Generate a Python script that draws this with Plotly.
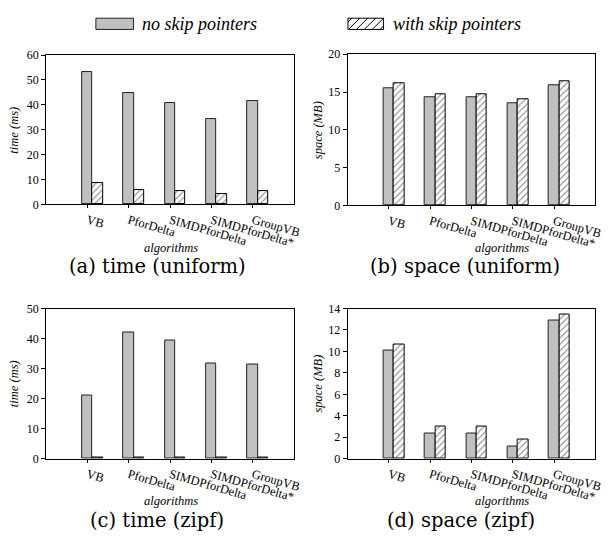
import plotly.graph_objects as go

# ---- data ----
algorithms = ["VB", "PforDelta", "SIMDPforDelta", "SIMDPforDelta*", "GroupVB"]

time_uniform_noskip = [53.2, 44.6, 40.9, 34.1, 41.4]
time_uniform_skip = [8.4, 5.7, 5.5, 4.2, 5.5]

space_uniform_noskip = [15.5, 14.3, 14.3, 13.5, 15.95]
space_uniform_skip = [16.15, 14.75, 14.75, 14.0, 16.45]

time_zipf_noskip = [21.1, 41.9, 39.3, 31.6, 31.5]
time_zipf_skip = [0.35, 0.35, 0.35, 0.35, 0.35]

space_zipf_noskip = [10.05, 2.38, 2.38, 1.1, 12.9]
space_zipf_skip = [10.6, 3.0, 3.0, 1.82, 13.45]

y_ticks = {
    "a": [0, 10, 20, 30, 40, 50, 60],
    "b": [0, 5, 10, 15, 20],
    "c": [0, 10, 20, 30, 40, 50],
    "d": [0, 2, 4, 6, 8, 10, 12, 14],
}

W, H = 608, 557
SERIF = "Liberation Serif, DejaVu Serif"
GRAY = "#c0c0c0"
BAR_W = 0.25


def px_x(px):
    return px / W


def px_y(py):
    return 1 - py / H


# panel layout in pixels: (left, right, top, bottom)
panels = [
    ("a", time_uniform_noskip, time_uniform_skip, (46.7, 297.5, 49.3, 202.5), "time (ms)"),
    ("b", space_uniform_noskip, space_uniform_skip, (351.7, 602.3, 48.5, 203.5), "space (MB)"),
    ("c", time_zipf_noskip, time_zipf_skip, (46.7, 297.5, 309.3, 463.3), "time (ms)"),
    ("d", space_zipf_noskip, space_zipf_skip, (351.7, 602.3, 309.3, 463.3), "space (MB)"),
]

fig = go.Figure()
positions = list(range(len(algorithms)))

for i, (key, noskip, skip, box, ytitle) in enumerate(panels, start=1):
    xa = "x" if i == 1 else f"x{i}"
    ya = "y" if i == 1 else f"y{i}"
    fig.add_trace(go.Bar(
        x=positions, y=noskip, width=BAR_W, offset=-BAR_W / 2,
        marker=dict(color=GRAY, line=dict(color="#202020", width=1)),
        xaxis=xa, yaxis=ya, showlegend=False, name="no skip pointers",
    ))
    fig.add_trace(go.Bar(
        x=positions, y=skip, width=BAR_W, offset=BAR_W / 2,
        marker=dict(color="white", line=dict(color="black", width=1),
                    pattern=dict(shape="/", size=4.5, solidity=0.22,
                                 fgcolor="black", bgcolor="white")),
        xaxis=xa, yaxis=ya, showlegend=False, name="with skip pointers",
    ))
    l, r, t, b = box
    yt = y_ticks[key]
    axis_common = dict(showline=True, mirror=True, linecolor="black", linewidth=1,
                       showgrid=False, zeroline=False, ticks="outside",
                       tickcolor="black", tickwidth=1)
    xname = "xaxis" if i == 1 else f"xaxis{i}"
    yname = "yaxis" if i == 1 else f"yaxis{i}"
    fig.layout[xname] = dict(
        domain=[px_x(l), px_x(r)], range=[-1, 5],
        anchor=ya, tickvals=positions, ticktext=algorithms, tickangle=16,
        ticklen=3, tickfont=dict(family=SERIF, size=12.5, color="black"),
        **axis_common,
    )
    fig.layout[yname] = dict(
        domain=[px_y(b), px_y(t)], range=[0, yt[-1]],
        anchor=xa, tickvals=yt, ticklen=4,
        tickfont=dict(family=SERIF, size=12, color="black"),
        **axis_common,
    )

annotations = []
shapes = []

# axis titles
title_font = dict(family=SERIF, size=12.5, color="black")
for (cx, cy, txt, ang) in [
    (14, 126, "time (ms)", -90), (322, 126, "space (MB)", -90),
    (14, 386, "time (ms)", -90), (322, 386, "space (MB)", -90),
    (173, 247, "algorithms", 0), (508, 247, "algorithms", 0),
    (173, 507, "algorithms", 0), (508, 507, "algorithms", 0),
]:
    annotations.append(dict(x=px_x(cx), y=px_y(cy), xref="paper", yref="paper",
                            text=f"<i>{txt}</i>", showarrow=False, textangle=ang,
                            font=title_font, xanchor="center", yanchor="middle"))

# sub-figure captions
cap_font = dict(family="DejaVu Serif", size=19.5, color="black")
for (cx, cy, txt) in [
    (159, 266.5, "(a) time (uniform)"), (470, 266.5, "(b) space (uniform)"),
    (159, 527, "(c) time (zipf)"), (466, 527, "(d) space (zipf)"),
]:
    annotations.append(dict(x=px_x(cx), y=px_y(cy), xref="paper", yref="paper",
                            text=txt, showarrow=False, font=cap_font,
                            xanchor="center", yanchor="middle"))

# legend keys
leg_font = dict(family=SERIF, size=18, color="black")
KT, KB = 11.5, 23.0
shapes.append(dict(type="rect", xref="paper", yref="paper",
                   x0=px_x(97), x1=px_x(135), y0=px_y(KB), y1=px_y(KT),
                   fillcolor=GRAY, line=dict(color="#202020", width=1)))
annotations.append(dict(x=px_x(142), y=px_y(17.5), xref="paper", yref="paper",
                        text="<i>no skip pointers</i>", showarrow=False, font=leg_font,
                        xanchor="left", yanchor="middle"))

HX0, HX1 = 352, 388
shapes.append(dict(type="rect", xref="paper", yref="paper",
                   x0=px_x(HX0), x1=px_x(HX1), y0=px_y(KB), y1=px_y(KT),
                   fillcolor="white", line=dict(color="black", width=1)))
kw, kh = HX1 - HX0, KB - KT
step = 8.0
d = -kh + step / 2
while d < kw:
    u0 = max(d, 0.0)
    u1 = min(kw, kh + d)
    if u1 > u0:
        shapes.append(dict(type="line", xref="paper", yref="paper",
                           x0=px_x(HX0 + u0), y0=px_y(KB - (u0 - d)),
                           x1=px_x(HX0 + u1), y1=px_y(KB - (u1 - d)),
                           line=dict(color="black", width=1)))
    d += step
annotations.append(dict(x=px_x(396), y=px_y(17.5), xref="paper", yref="paper",
                        text="<i>with skip pointers</i>", showarrow=False, font=leg_font,
                        xanchor="left", yanchor="middle"))

fig.update_layout(
    width=W, height=H, autosize=False,
    margin=dict(l=0, r=0, t=0, b=0),
    paper_bgcolor="white", plot_bgcolor="white",
    barmode="overlay", bargap=0,
    annotations=annotations, shapes=shapes,
    font=dict(family=SERIF, color="black"),
)

fig.write_html("out.html")
